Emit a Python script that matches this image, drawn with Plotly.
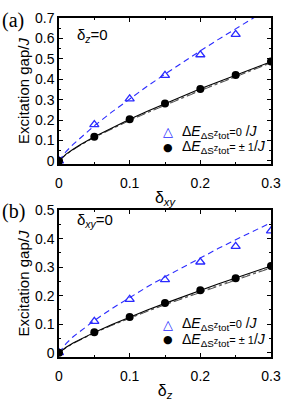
import plotly.graph_objects as go

# ---- data ----
x_pts = [0, 0.05, 0.1, 0.15, 0.2, 0.25, 0.3]
a_tri = [0.0, 0.178, 0.304, 0.419, 0.52, 0.62, None]
a_circ = [0.0, 0.118, 0.204, 0.281, 0.352, 0.421, 0.487]
b_tri = [0.0, 0.11, 0.187, 0.256, 0.318, 0.373, 0.427]
b_circ = [0.0, 0.072, 0.125, 0.174, 0.219, 0.261, 0.304]

x_fit = [0, 0.01, 0.02, 0.03, 0.05, 0.075, 0.1, 0.125, 0.15, 0.175, 0.2, 0.225, 0.25, 0.275, 0.3]
a_dash = [0, 0.046, 0.081, 0.113, 0.172, 0.240, 0.304, 0.366, 0.425, 0.483, 0.539, 0.594, 0.647, 0.701, 0.753]
a_solid = [0, 0.033, 0.057, 0.079, 0.118, 0.163, 0.204, 0.243, 0.281, 0.318, 0.353, 0.387, 0.421, 0.454, 0.486]
a_alt1 = [0, 0.032, 0.055, 0.077, 0.116, 0.160, 0.200, 0.238, 0.275, 0.312, 0.347, 0.381, 0.415, 0.449, 0.483]
a_alt2 = [0, 0.031, 0.054, 0.076, 0.115, 0.158, 0.198, 0.236, 0.273, 0.309, 0.344, 0.378, 0.412, 0.446, 0.480]
b_dash = [0, 0.032, 0.056, 0.076, 0.113, 0.155, 0.194, 0.231, 0.266, 0.300, 0.333, 0.365, 0.396, 0.426, 0.456]
b_solid = [0, 0.019, 0.034, 0.047, 0.0713, 0.099, 0.125, 0.150, 0.173, 0.196, 0.219, 0.241, 0.262, 0.283, 0.304]
b_alt1 = [0, 0.018, 0.033, 0.046, 0.070, 0.097, 0.122, 0.146, 0.169, 0.192, 0.214, 0.236, 0.257, 0.278, 0.299]
b_alt2 = [0, 0.018, 0.032, 0.045, 0.069, 0.096, 0.121, 0.145, 0.168, 0.190, 0.212, 0.234, 0.255, 0.276, 0.297]

x_ticks = [0, 0.1, 0.2, 0.3]
x_ticktext = ["0", "0.1", "0.2", "0.3"]
ya_ticks = [0, 0.1, 0.2, 0.3, 0.4, 0.5, 0.6, 0.7]
ya_ticktext = ["0", "0.1", "0.2", "0.3", "0.4", "0.5", "0.6", "0.7"]
yb_ticks = [0, 0.1, 0.2, 0.3, 0.4, 0.5]
yb_ticktext = ["0", "0.1", "0.2", "0.3", "0.4", "0.5"]

label0 = ('Δ<i>E</i><sub>ΔS</sub><span style="font-size:9px">z</span><sub>tot</sub>'
          '<span style="font-size:11px">=0</span> /<i>J</i>')
label1 = ('Δ<i>E</i><sub>ΔS</sub><span style="font-size:9px">z</span><sub>tot</sub>'
          '<span style="font-size:11px">= ± 1</span>/<i>J</i>')

FONT = "Liberation Sans, Arial, sans-serif"
SERIF = "Liberation Serif, Times New Roman, serif"
BLUE = "#2a2aff"

fig = go.Figure()

def add_panel(xa, ya, dash, solid, alt1, alt2, tri, circ):
    fig.add_trace(go.Scatter(x=x_fit, y=alt1, xaxis=xa, yaxis=ya, mode="lines",
                             line=dict(color="#777777", width=1, dash="dot"), showlegend=False))
    fig.add_trace(go.Scatter(x=x_fit, y=alt2, xaxis=xa, yaxis=ya, mode="lines",
                             line=dict(color="#555555", width=1, dash="dashdot"), showlegend=False))
    fig.add_trace(go.Scatter(x=x_fit, y=solid, xaxis=xa, yaxis=ya, mode="lines",
                             line=dict(color="black", width=1.1), showlegend=False))
    fig.add_trace(go.Scatter(x=x_fit, y=dash, xaxis=xa, yaxis=ya, mode="lines",
                             line=dict(color=BLUE, width=1.1, dash="6px,4px"), showlegend=False))
    fig.add_trace(go.Scatter(x=x_pts, y=tri, xaxis=xa, yaxis=ya, mode="markers", name=label0,
                             marker=dict(symbol="triangle-up-open", size=8, color=BLUE,
                                         line=dict(width=1.3, color=BLUE)), showlegend=False))
    fig.add_trace(go.Scatter(x=x_pts, y=circ, xaxis=xa, yaxis=ya, mode="markers", name=label1,
                             marker=dict(symbol="circle", size=8, color="black"), showlegend=False))

add_panel("x", "y", a_dash, a_solid, a_alt1, a_alt2, a_tri, a_circ)
add_panel("x2", "y2", b_dash, b_solid, b_alt1, b_alt2, b_tri, b_circ)

axcommon = dict(showline=True, linecolor="black", linewidth=1.5, mirror="ticks",
                ticks="inside", ticklen=4, tickwidth=1, tickcolor="black",
                showgrid=False, zeroline=False,
                tickfont=dict(family=FONT, size=14, color="black"),
                minor=dict(ticks="inside", ticklen=2, tickwidth=1, tickcolor="black",
                           showgrid=False, dtick=0.05))

fig.update_layout(
    width=291, height=407,
    margin=dict(l=59, r=11, t=10, b=37),
    plot_bgcolor="white", paper_bgcolor="white",
    showlegend=False,
    xaxis=dict(domain=[0, 1], anchor="y", range=[0, 0.3], tickvals=x_ticks, ticktext=x_ticktext,
               ticklabelstandoff=5,
               title=dict(text="δ<sub><i>xy</i></sub>", font=dict(family=FONT, size=16, color="black"), standoff=2),
               **axcommon),
    yaxis=dict(domain=[0.5694, 1], anchor="x", range=[-0.015, 0.7], tickvals=ya_ticks, ticktext=ya_ticktext,
               title=dict(text="Excitation gap/<i>J</i>", font=dict(family=FONT, size=15, color="black"), standoff=2),
               **axcommon),
    xaxis2=dict(domain=[0, 1], anchor="y2", range=[0, 0.3], tickvals=x_ticks, ticktext=x_ticktext,
                ticklabelstandoff=5,
                title=dict(text="δ<sub><i>z</i></sub>", font=dict(family=FONT, size=16, color="black"), standoff=2),
                **axcommon),
    yaxis2=dict(domain=[0, 0.4333], anchor="x2", range=[-0.015, 0.5], tickvals=yb_ticks, ticktext=yb_ticktext,
                title=dict(text="Excitation gap/<i>J</i>", font=dict(family=FONT, size=15, color="black"), standoff=2),
                **axcommon),
)

ann = [
    dict(text="(a)", x=0, y=0.992, xshift=-59, xanchor="left", yanchor="middle",
         font=dict(family=SERIF, size=20, color="black")),
    dict(text="(b)", x=0, y=0.4306, xshift=-59, xanchor="left", yanchor="middle",
         font=dict(family=SERIF, size=20, color="black")),
    dict(text="δ<sub><i>z</i></sub>=0", x=0.075, y=0.947, xanchor="left", yanchor="middle",
         font=dict(family=FONT, size=15, color="black")),
    dict(text="δ<sub><i>xy</i></sub>=0", x=0.075, y=0.403, xanchor="left", yanchor="middle",
         font=dict(family=FONT, size=15, color="black")),
]
# legend-like labels
for (ytri, ycirc) in [(0.664, 0.619), (0.0972, 0.0508)]:
    ann.append(dict(text="△", x=0.5125, y=ytri, xanchor="center", yanchor="middle",
                    font=dict(family="DejaVu Sans", size=13, color=BLUE)))
    ann.append(dict(text="●", x=0.5125, y=ycirc, xanchor="center", yanchor="middle",
                    font=dict(family="DejaVu Sans", size=11, color="black")))
    ann.append(dict(text=label0, x=0.571, y=ytri, xanchor="left", yanchor="middle",
                    font=dict(family=FONT, size=14, color="black")))
    ann.append(dict(text=label1, x=0.571, y=ycirc, xanchor="left", yanchor="middle",
                    font=dict(family=FONT, size=14, color="black")))
for a in ann:
    a.update(xref="paper", yref="paper", showarrow=False)
fig.update_layout(annotations=ann)

fig.write_html("out.html", include_plotlyjs=True,
               config={"displayModeBar": False},
               post_script="document.body.style.margin='0';document.body.style.overflow='hidden';")
